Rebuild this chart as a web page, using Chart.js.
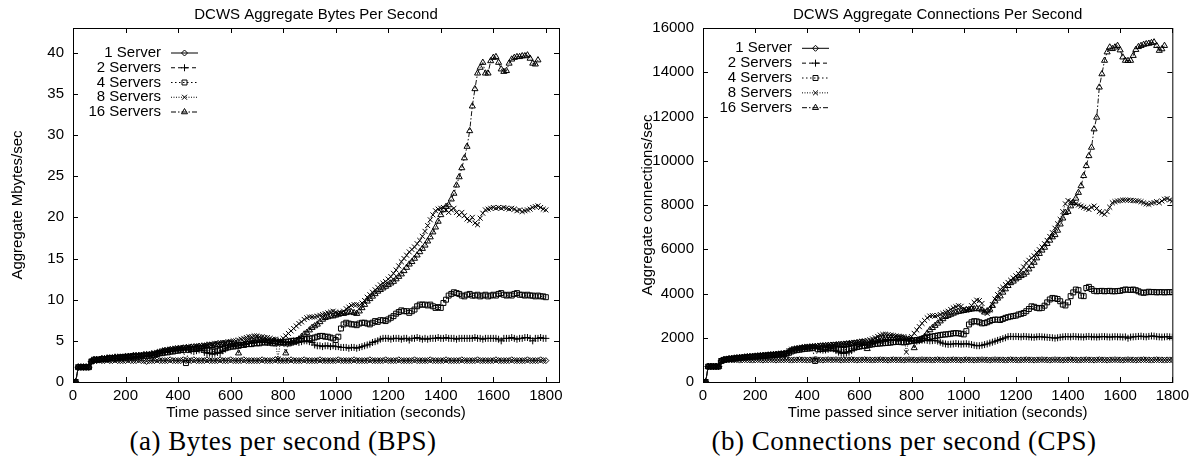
<!DOCTYPE html>
<html>
<head>
<meta charset="utf-8">
<title>DCWS aggregate throughput</title>
<script src="https://cdn.jsdelivr.net/npm/chart.js@4/dist/chart.umd.min.js"></script>
<style>
  body { margin: 0; background: #fff; width: 1194px; height: 456px; overflow: hidden; position: relative; }
  .box { position: absolute; top: 0; width: 597px; height: 425px; }
  .cap { position: absolute; top: 426px; width: 460px; text-align: center; line-height: 30px;
         font-family: "Liberation Serif", "DejaVu Serif", serif; font-size: 27px; letter-spacing: 0.5px; color: #000; }
</style>
</head>
<body>
<div class="box" style="left:0"><canvas id="bps" width="597" height="425"></canvas></div>
<div class="box" style="left:597px"><canvas id="cps" width="597" height="425"></canvas></div>
<div class="cap" style="left:53px">(a) Bytes per second (BPS)</div>
<div class="cap" style="left:674px">(b) Connections per second (CPS)</div>
<script>
// sample times (seconds)
const times = [
  0, 10, 20, 30, 40, 50, 60, 70, 80, 90,
  100, 110, 120, 130, 140, 150, 160, 170, 180, 190,
  200, 210, 220, 230, 240, 250, 260, 270, 280, 290,
  300, 310, 320, 330, 340, 350, 360, 370, 380, 390,
  400, 410, 420, 430, 440, 450, 460, 470, 480, 490,
  500, 510, 520, 530, 540, 550, 560, 570, 580, 590,
  600, 610, 620, 630, 640, 650, 660, 670, 680, 690,
  700, 710, 720, 730, 740, 750, 760, 770, 780, 790,
  800, 810, 820, 830, 840, 850, 860, 870, 880, 890,
  900, 910, 920, 930, 940, 950, 960, 970, 980, 990,
  1000, 1010, 1020, 1030, 1040, 1050, 1060, 1070, 1080, 1090,
  1100, 1110, 1120, 1130, 1140, 1150, 1160, 1170, 1180, 1190,
  1200, 1210, 1220, 1230, 1240, 1250, 1260, 1270, 1280, 1290,
  1300, 1310, 1320, 1330, 1340, 1350, 1360, 1370, 1380, 1390,
  1400, 1410, 1420, 1430, 1440, 1450, 1460, 1470, 1480, 1490,
  1500, 1510, 1520, 1530, 1540, 1550, 1560, 1570, 1580, 1590,
  1600, 1610, 1620, 1630, 1640, 1650, 1660, 1670, 1680, 1690,
  1700, 1710, 1720, 1730, 1740, 1750, 1760, 1770, 1780, 1790,
  1800
];

const seriesLabels = ['1 Server', '2 Servers', '4 Servers', '8 Servers', '16 Servers'];

const xTicks = [0, 200, 400, 600, 800, 1000, 1200, 1400, 1600, 1800];
const yTicksBps = [0, 5, 10, 15, 20, 25, 30, 35, 40];
const yTicksCps = [0, 2000, 4000, 6000, 8000, 10000, 12000, 14000, 16000];

// Mbytes/sec
const bps1 = [
  0, 0, 1.8, 1.8, 1.8, 1.8, 1.8, 2.5, 2.6, 2.6,
  2.7, 2.6, 2.6, 2.7, 2.6, 2.6, 2.7, 2.6, 2.6, 2.6,
  2.6, 2.7, 2.6, 2.6, 2.6, 2.7, 2.6, 2.6, 2.5, 2.6,
  2.6, 2.6, 2.7, 2.6, 2.6, 2.6, 2.6, 2.7, 2.6, 2.6,
  2.6, 2.6, 2.7, 2.6, 2.6, 2.6, 2.7, 2.6, 2.6, 2.6,
  2.6, 2.7, 2.6, 2.6, 2.6, 2.6, 2.7, 2.6, 2.6, 2.6,
  2.7, 2.6, 2.6, 2.6, 2.6, 2.7, 2.6, 2.6, 2.6, 2.6,
  2.6, 2.6, 2.7, 2.6, 2.6, 2.6, 2.6, 2.7, 2.6, 2.6,
  2.6, 2.6, 2.6, 2.7, 2.6, 2.6, 2.6, 2.6, 2.7, 2.6,
  2.6, 2.6, 2.6, 2.6, 2.7, 2.6, 2.6, 2.6, 2.6, 2.6,
  2.6, 2.7, 2.6, 2.6, 2.6, 2.6, 2.6, 2.7, 2.6, 2.6,
  2.6, 2.6, 2.6, 2.7, 2.6, 2.6, 2.6, 2.6, 2.6, 2.7,
  2.6, 2.6, 2.6, 2.6, 2.7, 2.6, 2.6, 2.6, 2.6, 2.6,
  2.7, 2.6, 2.6, 2.6, 2.6, 2.6, 2.7, 2.6, 2.6, 2.6,
  2.6, 2.6, 2.7, 2.6, 2.6, 2.6, 2.6, 2.6, 2.7, 2.6,
  2.6, 2.6, 2.6, 2.6, 2.7, 2.6, 2.6, 2.6, 2.6, 2.6,
  2.6, 2.7, 2.6, 2.6, 2.6, 2.6, 2.6, 2.7, 2.6, 2.6,
  2.6, 2.6, 2.6, 2.7, 2.6, 2.6, 2.6, 2.6, 2.7, 2.6,
  2.6
];
const bps2 = [
  0, 0, 1.8, 1.8, 1.8, 1.8, 1.8, 2.5, 2.7, 2.7,
  2.7, 2.8, 2.8, 2.8, 2.8, 2.9, 2.9, 2.9, 2.9, 3.0,
  3.0, 3.0, 3.0, 3.1, 3.1, 3.1, 3.1, 3.2, 3.2, 3.2,
  3.3, 3.3, 3.4, 3.5, 3.6, 3.6, 3.7, 3.7, 3.8, 3.8,
  3.9, 3.9, 3.9, 4.0, 4.0, 3.8, 3.7, 3.8, 3.9, 4.0,
  3.6, 3.5, 3.5, 3.4, 3.5, 3.6, 3.5, 3.8, 4.0, 4.2,
  4.3, 4.4, 4.4, 4.5, 4.5, 4.6, 4.6, 4.7, 4.7, 4.8,
  4.8, 4.8, 4.9, 4.9, 4.8, 4.8, 4.9, 5.0, 5.0, 4.9,
  4.9, 4.8, 4.8, 4.9, 5.0, 4.9, 4.8, 4.9, 5.0, 5.0,
  4.9, 4.8, 4.5, 4.4, 4.4, 4.3, 4.4, 4.4, 4.3, 4.4,
  4.3, 4.3, 4.2, 4.2, 4.2, 4.1, 4.2, 4.2, 4.1, 4.2,
  4.3, 4.4, 4.5, 4.6, 4.8, 4.9, 5.0, 5.2, 5.3, 5.3,
  5.3, 5.2, 5.3, 5.3, 5.3, 5.2, 5.3, 5.3, 5.1, 5.3,
  5.3, 5.4, 5.3, 5.2, 5.3, 5.2, 5.3, 5.3, 5.3, 5.4,
  5.3, 5.3, 5.4, 5.3, 5.3, 5.3, 5.2, 5.3, 5.3, 5.3,
  5.3, 5.3, 5.3, 5.4, 5.3, 5.3, 5.2, 5.3, 5.3, 5.3,
  5.3, 5.3, 5.2, 5.0, 5.3, 5.3, 5.3, 5.4, 5.3, 5.2,
  5.3, 5.3, 5.4, 5.4, 5.3, 5.0, 5.3, 5.3, 5.4, 5.3,
  5.3
];
const bps4 = [
  0, 0, 1.8, 1.8, 1.8, 1.8, 1.8, 2.5, 2.7, 2.7,
  2.7, 2.8, 2.8, 2.8, 2.9, 2.9, 2.9, 2.9, 3.0, 3.0,
  3.0, 3.0, 3.1, 3.1, 3.1, 3.1, 3.2, 3.2, 3.2, 3.2,
  3.3, 3.3, 3.4, 3.5, 3.5, 3.6, 3.6, 3.7, 3.7, 3.8,
  3.8, 3.9, 3.9, 2.3, 3.9, 4.0, 4.0, 4.0, 4.1, 4.1,
  4.1, 3.9, 3.8, 3.7, 3.7, 3.8, 3.9, 4.0, 4.1, 4.2,
  4.3, 4.3, 4.4, 4.4, 4.5, 4.5, 4.6, 4.6, 4.6, 4.7,
  4.7, 4.7, 4.8, 4.8, 4.8, 4.8, 4.7, 4.7, 4.8, 4.8,
  4.8, 4.9, 4.9, 5.0, 5.0, 5.0, 5.1, 5.2, 5.2, 5.2,
  5.3, 5.3, 5.4, 5.5, 5.6, 5.6, 5.5, 5.5, 5.4, 5.3,
  5.1, 5.5, 6.5, 7.0, 7.2, 7.1, 7.0, 7.0, 6.9, 7.1,
  7.2, 7.2, 7.1, 7.0, 7.2, 7.4, 7.3, 7.5, 7.5, 7.4,
  7.6, 7.8, 8.0, 8.3, 8.5, 8.7, 8.6, 8.6, 8.4, 8.6,
  8.8, 9.2, 9.4, 9.4, 9.4, 9.3, 9.4, 9.2, 9.0, 9.1,
  9.0, 9.6, 10.0, 10.5, 10.7, 10.9, 10.8, 10.7, 10.5, 10.4,
  10.6, 10.7, 10.5, 10.5, 10.6, 10.4, 10.5, 10.6, 10.4, 10.5,
  10.6, 10.5, 10.7, 10.8, 10.6, 10.5, 10.6, 10.5, 10.7, 10.8,
  10.6, 10.6, 10.5, 10.6, 10.5, 10.5, 10.4, 10.5, 10.4, 10.4,
  10.3
];
const bps8 = [
  0, 0, 1.8, 1.8, 1.8, 1.8, 1.8, 2.5, 2.7, 2.7,
  2.8, 2.8, 2.9, 2.9, 2.9, 3.0, 3.0, 3.0, 3.0, 3.1,
  3.1, 3.1, 3.2, 3.2, 3.2, 3.2, 3.3, 3.3, 3.3, 3.4,
  3.4, 3.5, 3.6, 3.7, 3.8, 3.9, 3.9, 4.0, 4.0, 4.1,
  4.1, 4.2, 4.2, 4.2, 4.3, 4.3, 4.3, 4.4, 4.4, 4.4,
  4.5, 4.5, 4.6, 4.6, 4.7, 4.7, 4.8, 4.8, 4.8, 4.9,
  4.9, 5.0, 5.0, 5.1, 5.2, 5.3, 5.4, 5.5, 5.5, 5.6,
  5.6, 5.5, 5.5, 5.4, 5.4, 5.3, 5.2, 5.2, 2.8, 5.0,
  5.3, 5.6, 5.9, 6.2, 6.5, 6.8, 7.1, 7.3, 7.6, 7.8,
  7.9, 7.9, 7.9, 8.0, 8.1, 8.2, 8.3, 8.4, 8.5, 8.6,
  8.5, 8.3, 8.4, 8.6, 8.9, 9.1, 9.3, 9.4, 9.4, 9.3,
  9.6, 9.9, 10.3, 10.6, 10.9, 11.2, 11.5, 11.8, 12.0, 12.2,
  12.5, 12.8, 13.2, 13.6, 14.1, 14.6, 15.0, 15.4, 15.8, 16.1,
  16.4, 16.8, 17.2, 17.7, 18.3, 19.0, 19.7, 20.3, 20.8, 21.0,
  21.1, 21.2, 20.9, 20.6, 20.9, 21.1, 20.6, 20.3, 20.6, 20.2,
  19.8, 19.6, 20.0, 19.3, 19.1, 19.9, 20.5, 20.9, 21.0, 21.1,
  21.2, 21.1, 21.2, 21.1, 21.2, 21.1, 21.0, 21.1, 21.0, 20.8,
  20.9, 20.7, 20.8, 20.9, 21.0, 21.2, 21.3, 21.4, 21.2, 21.0,
  20.9
];
const bps16 = [
  0, 0, 1.8, 1.8, 1.8, 1.8, 1.8, 2.5, 2.7, 2.7,
  2.7, 2.8, 2.8, 2.9, 2.9, 2.9, 3.0, 3.0, 3.0, 3.0,
  3.1, 3.1, 3.1, 3.2, 3.2, 3.2, 3.2, 3.3, 3.3, 3.3,
  3.4, 3.4, 3.5, 3.6, 3.7, 3.8, 3.8, 3.9, 3.9, 4.0,
  4.0, 4.0, 4.1, 4.1, 4.1, 4.2, 4.2, 4.2, 4.3, 4.3,
  4.3, 4.4, 4.4, 4.4, 4.5, 4.5, 4.5, 4.6, 4.6, 4.7,
  4.7, 4.6, 4.5, 3.5, 4.4, 4.6, 4.8, 4.9, 5.0, 5.0,
  5.1, 5.1, 5.0, 5.0, 5.0, 4.9, 4.9, 4.9, 4.8, 4.8,
  4.7, 3.5, 4.6, 4.7, 4.8, 5.0, 5.2, 5.5, 5.8, 6.0,
  6.3, 6.6, 6.8, 7.0, 7.3, 7.6, 7.8, 7.9, 8.0, 8.0,
  8.1, 8.2, 8.3, 8.3, 8.4, 8.5, 8.5, 8.4, 8.3, 8.6,
  9.0, 9.4, 9.8, 10.1, 10.4, 10.7, 11.0, 11.2, 11.4, 11.6,
  11.8, 12.0, 12.2, 12.5, 12.8, 13.1, 13.5, 13.9, 14.3, 14.6,
  15.0, 15.4, 15.8, 16.2, 16.6, 17.1, 17.6, 18.2, 18.8, 19.5,
  20.3, 20.9, 21.3, 21.5, 22.2, 22.9, 23.9, 24.9, 26.0, 27.2,
  28.6, 30.5, 33.5, 35.6, 37.5, 38.2, 38.8, 37.5, 37.5, 39.0,
  39.4, 39.5, 38.8, 38.0, 37.7, 37.8, 38.7, 39.2, 39.4, 39.5,
  39.5, 39.6, 39.6, 39.7, 39.3, 38.7, 38.6, 39.1
];

// connections/sec
const cps1 = [
  0, 0, 700, 700, 700, 700, 700, 950, 1000, 1000,
  1010, 1000, 1000, 1010, 990, 1000, 1010, 1000, 1000, 990,
  1000, 1010, 1000, 990, 1000, 1000, 1010, 1000, 990, 1000,
  1000, 1000, 1010, 1000, 990, 1000, 1000, 1010, 1000, 1000,
  990, 1000, 1000, 1010, 1000, 1000, 990, 1000, 1010, 1000,
  1000, 1010, 1000, 990, 1000, 1000, 1000, 1010, 1000, 990,
  1000, 1000, 1010, 1000, 1000, 990, 1000, 1000, 1010, 1000,
  1000, 990, 1000, 1010, 1000, 1000, 1000, 990, 1000, 1010,
  1000, 1000, 990, 1000, 1010, 1000, 1000, 1000, 990, 1000,
  1010, 1000, 1000, 990, 1000, 1000, 1010, 1000, 1000, 990,
  1000, 1010, 1000, 1000, 990, 1000, 1000, 1010, 1000, 1000,
  990, 1000, 1010, 1000, 1000, 1000, 990, 1000, 1010, 1000,
  1000, 990, 1000, 1000, 1010, 1000, 1000, 990, 1000, 1000,
  1010, 1000, 1000, 990, 1000, 1010, 1000, 1000, 990, 1000,
  1000, 1010, 1000, 1000, 990, 1000, 1000, 1010, 1000, 1000,
  990, 1000, 1010, 1000, 1000, 990, 1000, 1000, 1010, 1000,
  1000, 990, 1000, 1010, 1000, 1000, 990, 1000, 1000, 1010,
  1000, 1000, 990, 1000, 1010, 1000, 1000, 990, 1000, 1000,
  1000
];
const cps2 = [
  0, 0, 700, 700, 700, 700, 700, 950, 1000, 1020,
  1040, 1050, 1060, 1080, 1090, 1100, 1110, 1120, 1130, 1140,
  1150, 1160, 1170, 1180, 1190, 1200, 1210, 1220, 1230, 1240,
  1250, 1260, 1280, 1350, 1420, 1450, 1470, 1490, 1500, 1520,
  1530, 1540, 1550, 1560, 1500, 1460, 1440, 1450, 1480, 1520,
  1500, 1420, 1350, 1300, 1290, 1310, 1350, 1420, 1500, 1580,
  1620, 1650, 1680, 1700, 1720, 1740, 1760, 1780, 1800, 1820,
  1840, 1860, 1870, 1880, 1870, 1860, 1880, 1900, 1920, 1900,
  1880, 1860, 1850, 1870, 1890, 1900, 1880, 1860, 1870, 1880,
  1850, 1800, 1750, 1720, 1700, 1710, 1720, 1740, 1720, 1710,
  1720, 1730, 1710, 1690, 1660, 1640, 1640, 1660, 1690, 1720,
  1760, 1800, 1840, 1880, 1920, 1960, 2000, 2050, 2060, 2050,
  2060, 2050, 2040, 2060, 2050, 2040, 2030, 2020, 2040, 2050,
  2040, 2030, 2020, 2010, 2000, 1980, 2000, 2020, 2040, 2050,
  2050, 2040, 2060, 2050, 2040, 2040, 2030, 2050, 2060, 2040,
  2040, 2030, 2040, 2050, 2050, 2040, 2030, 2040, 2050, 2040,
  2040, 2030, 2040, 1980, 2030, 2040, 2050, 2060, 2070, 2050,
  2040, 2060, 2080, 2070, 2050, 2040, 2030, 2040, 2050, 2040,
  2030
];
const cps4 = [
  0, 0, 700, 700, 700, 700, 700, 950, 1000, 1020,
  1040, 1050, 1060, 1080, 1090, 1100, 1110, 1120, 1130, 1140,
  1150, 1160, 1170, 1180, 1190, 1200, 1210, 1220, 1230, 1240,
  1250, 1260, 1280, 1320, 1380, 1420, 1440, 1460, 1480, 1500,
  1510, 1520, 1530, 950, 1480, 1490, 1500, 1510, 1520, 1530,
  1520, 1500, 1480, 1460, 1450, 1470, 1490, 1520, 1550, 1580,
  1600, 1620, 1640, 1660, 1680, 1700, 1720, 1730, 1740, 1750,
  1760, 1770, 1780, 1800, 1810, 1820, 1800, 1790, 1810, 1830,
  1850, 1880, 1900, 1920, 1950, 1980, 2000, 2030, 2060, 2080,
  2100, 2120, 2140, 2150, 2160, 2180, 2200, 2210, 2200, 2180,
  2150, 2300, 2600, 2700, 2750, 2740, 2700, 2650, 2660, 2700,
  2750, 2800, 2820, 2820, 2800, 2850, 2900, 2930, 2960, 2980,
  3000, 3050, 3080, 3120, 3200, 3300, 3420, 3400, 3350, 3330,
  3350, 3450, 3600, 3730, 3800, 3780, 3750, 3650, 3500, 3460,
  3600, 3880, 4050, 4180, 4150, 3900, 3880, 4250, 4300, 4200,
  4120, 4100, 4110, 4120, 4100, 4110, 4120, 4100, 4100, 4110,
  4120, 4150, 4180, 4170, 4160, 4180, 4150, 4100, 4050, 4030,
  4050, 4080, 4060, 4070, 4050, 4060, 4060, 4050, 4060, 4060,
  4060
];
const cps8 = [
  0, 0, 700, 700, 700, 700, 700, 950, 1000, 1030,
  1050, 1070, 1080, 1100, 1110, 1120, 1140, 1150, 1160, 1170,
  1180, 1190, 1200, 1210, 1220, 1230, 1240, 1250, 1260, 1270,
  1280, 1300, 1330, 1420, 1480, 1510, 1530, 1550, 1570, 1590,
  1600, 1610, 1620, 1630, 1640, 1650, 1660, 1670, 1680, 1690,
  1700, 1710, 1720, 1730, 1740, 1750, 1770, 1780, 1790, 1800,
  1820, 1840, 1860, 1880, 1910, 1950, 2000, 2060, 2120, 2150,
  2160, 2140, 2120, 2100, 2080, 2070, 2050, 2050, 1350, 1950,
  2050, 2200, 2350, 2500, 2650, 2780, 2900, 2980, 3000, 2980,
  3000, 3050, 3100, 3150, 3200, 3280, 3350, 3400, 3450, 3420,
  3300, 3250, 3300, 3450, 3600, 3700, 3680, 3550, 3200, 3100,
  3250, 3500, 3750, 3950, 4180, 4280, 4400, 4500, 4600, 4700,
  4800, 4900, 5050, 5200, 5380, 5500, 5600, 5700, 5850, 5980,
  6100, 6250, 6400, 6580, 6750, 6950, 7150, 7350, 7700, 8050,
  8200, 8150, 8100, 8050, 8000, 7950, 7900, 7850, 7800, 7900,
  7950, 7850, 7700, 7650, 7580, 7700, 7900, 8100, 8150, 8180,
  8200, 8220, 8230, 8220, 8210, 8200, 8190, 8180, 8150, 8100,
  8050, 8030, 8080, 8110, 8150, 8100, 8180, 8260, 8290, 8230,
  8180
];
const cps16 = [
  0, 0, 700, 700, 700, 700, 700, 950, 1000, 1020,
  1040, 1050, 1070, 1080, 1090, 1100, 1120, 1130, 1140, 1150,
  1160, 1170, 1180, 1190, 1200, 1210, 1220, 1230, 1240, 1250,
  1260, 1270, 1300, 1380, 1440, 1470, 1490, 1510, 1530, 1550,
  1560, 1570, 1580, 1590, 1600, 1610, 1620, 1630, 1640, 1650,
  1650, 1660, 1670, 1680, 1690, 1700, 1710, 1720, 1740, 1760,
  1780, 1790, 1760, 1500, 1720, 1790, 1850, 1900, 1950, 1980,
  2000, 2010, 2000, 1990, 1980, 1970, 1960, 1950, 1940, 1930,
  1900, 1540, 1850, 1880, 1950, 2050, 2200, 2350, 2450, 2550,
  2650, 2750, 2850, 2950, 3000, 3050, 3100, 3150, 3180, 3200,
  3220, 3250, 3270, 3290, 3300, 3320, 3300, 3250, 3150, 3200,
  3280, 3450, 3650, 3780, 3880, 4050, 4200, 4350, 4480, 4550,
  4650, 4720, 4800, 4860, 4950, 5100, 5250, 5400, 5600, 5800,
  5950, 6080, 6250, 6400, 6550, 6650, 6850, 7130, 7400, 7650,
  7700, 7950, 8100, 8300, 8560, 8860, 9320, 9770, 10220, 10600,
  11430, 11960, 13320, 13920, 14530, 14910, 15130, 15060, 15130, 15200,
  15000, 14680, 14530, 14520, 14530, 14750, 15020, 15150, 15200, 15250,
  15280, 15300, 15330, 15360, 15200, 14980, 15050, 15200
];

// gnuplot-like line and point styles
const dashes = [[], [4, 3], [1.5, 2.5], [1, 1.5], [5, 2, 1.5, 2]];
const marks = ['rectRot', 'cross', 'rect', 'crossRot', 'triangle'];
const radii = [3, 3.5, 3.5, 3.5, 3.5];

const FONT = { family: '"Liberation Sans", Arial, sans-serif', size: 15, weight: 'normal' };

// frame, inner ticks on all four sides, and the gnuplot style key
const gnuplotFrame = {
  id: 'gnuplotFrame',
  afterDatasetsDraw(chart, args, o) {
    const { ctx, chartArea: a, scales } = chart;
    ctx.save();
    ctx.strokeStyle = '#000';
    ctx.lineWidth = 1;
    ctx.setLineDash([]);
    ctx.strokeRect(a.left + 0.5, a.top + 0.5, a.right - a.left, a.bottom - a.top);
    ctx.beginPath();
    o.xTicks.forEach(v => {
      const px = Math.round(scales.x.getPixelForValue(v)) + 0.5;
      ctx.moveTo(px, a.bottom); ctx.lineTo(px, a.bottom - 5);
      ctx.moveTo(px, a.top); ctx.lineTo(px, a.top + 5);
    });
    o.yTicks.forEach(v => {
      const py = Math.round(scales.y.getPixelForValue(v)) + 0.5;
      ctx.moveTo(a.left, py); ctx.lineTo(a.left + 5, py);
      ctx.moveTo(a.right, py); ctx.lineTo(a.right - 5, py);
    });
    ctx.stroke();

    ctx.font = '15px "Liberation Sans", Arial, sans-serif';
    ctx.textAlign = 'right';
    ctx.textBaseline = 'middle';
    chart.data.datasets.forEach((ds, i) => {
      const ly = o.keyY + i * o.keyDy;
      ctx.fillStyle = '#000';
      ctx.fillText(ds.label, o.keyX, ly);
      ctx.strokeStyle = '#000';
      ctx.lineWidth = 1;
      ctx.setLineDash(ds.borderDash);
      ctx.beginPath();
      ctx.moveTo(o.keyX + 10, ly);
      ctx.lineTo(o.keyX + 37, ly);
      ctx.stroke();
      ctx.setLineDash([]);
      ctx.lineWidth = 1;
      ctx.fillStyle = 'rgba(0,0,0,0)';
      Chart.helpers.drawPoint(ctx, { pointStyle: ds.pointStyle, radius: ds.pointRadius, borderWidth: 1, rotation: 0 },
        o.keyX + 23.5, ly);
    });
    ctx.restore();
  }
};

function makeChart(id, c) {
  const datasets = seriesLabels.map((label, i) => ({
    label: label,
    data: c.series[i].map((v, k) => ({ x: times[k], y: v })),
    borderColor: '#111',
    borderWidth: 1,
    borderDash: dashes[i],
    pointStyle: marks[i],
    pointRadius: radii[i],
    pointBorderWidth: 1,
    pointBorderColor: '#000',
    pointBackgroundColor: 'rgba(0,0,0,0)',
    tension: 0,
    fill: false,
    order: 4 - i
  }));

  return new Chart(document.getElementById(id), {
    type: 'line',
    data: { datasets: datasets },
    plugins: [gnuplotFrame],
    options: {
      responsive: false,
      animation: false,
      events: [],
      layout: { padding: { left: 0, right: c.padRight, top: 0, bottom: 0 } },
      scales: {
        x: {
          type: 'linear', min: 0, max: c.xMax,
          afterBuildTicks: s => { s.ticks = xTicks.map(v => ({ value: v })); },
          afterFit: s => { s.height = 43; },
          grid: { display: false, drawTicks: false, tickLength: 0 },
          border: { display: false },
          ticks: { padding: 5, font: FONT, color: '#000', maxRotation: 0, autoSkip: false, callback: v => String(v) },
          title: { display: true, text: 'Time passed since server initiation (seconds)', font: FONT, color: '#000',
                   padding: { top: 0, bottom: 3 } }
        },
        y: {
          min: 0, max: c.yMax,
          afterBuildTicks: s => { s.ticks = c.yTicks.map(v => ({ value: v })); },
          afterFit: s => { s.width = c.yWidth; },
          grid: { display: false, drawTicks: false, tickLength: 0 },
          border: { display: false },
          ticks: { padding: 9, font: FONT, color: '#000', autoSkip: false, callback: v => String(v) },
          title: { display: true, text: c.yTitle, font: FONT, color: '#000',
                   padding: { top: c.yTitlePad, bottom: 0 } }
        }
      },
      plugins: {
        legend: { display: false },
        tooltip: { enabled: false },
        title: { display: true, text: c.title, font: FONT, color: '#000', fullSize: false,
                 padding: { top: 6, bottom: 4 } },
        gnuplotFrame: { xTicks: xTicks, yTicks: c.yTicks, keyX: c.keyX, keyY: c.keyY, keyDy: c.keyDy }
      }
    }
  });
}

makeChart('bps', {
  series: [bps1, bps2, bps4, bps8, bps16],
  title: 'DCWS Aggregate Bytes Per Second',
  yTitle: 'Aggregate Mbytes/sec',
  xMax: 1850, yMax: 43, yTicks: yTicksBps,
  yWidth: 73, yTitlePad: 9, padRight: 38,
  keyX: 161, keyY: 53, keyDy: 14.75
});

makeChart('cps', {
  series: [cps1, cps2, cps4, cps8, cps16],
  title: 'DCWS Aggregate Connections Per Second',
  yTitle: 'Aggregate connections/sec',
  xMax: 1800, yMax: 16000, yTicks: yTicksCps,
  yWidth: 106, yTitlePad: 42, padRight: 18,
  keyX: 195, keyY: 48.3, keyDy: 14.85
});
</script>
</body>
</html>
